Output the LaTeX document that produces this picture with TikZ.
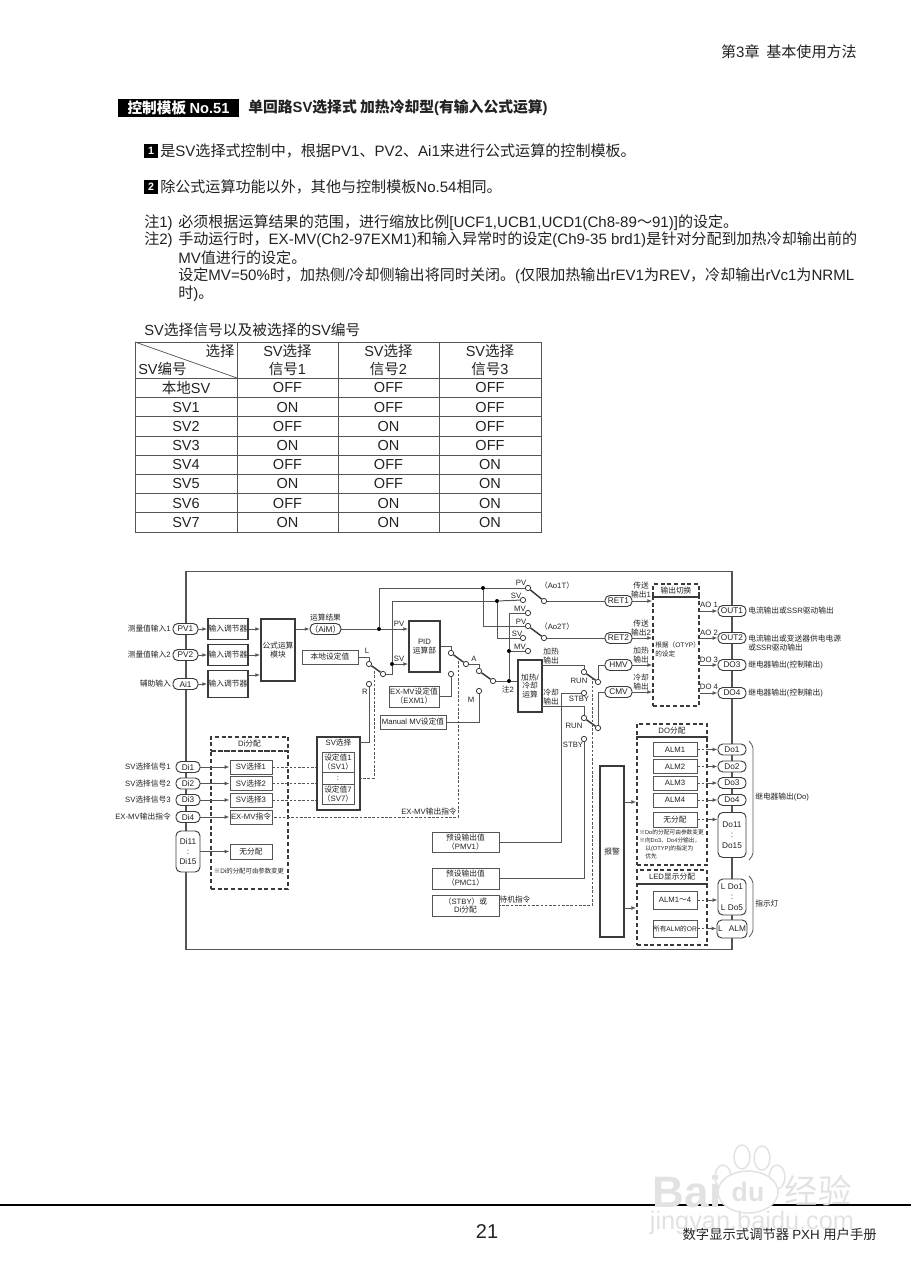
\documentclass[tikz,border=0pt]{standalone}
\usepackage{fontspec}
\usetikzlibrary{arrows.meta,calc,shapes.geometric}
\setmainfont{Liberation Sans}
\newfontfamily\cjk{Noto Sans CJK SC}
\newfontfamily\lat{Liberation Sans}
\XeTeXinterchartokenstate=1
\chardef\hanclass=7
\newcount\hanchar
\def\sethanrange#1#2{\hanchar=#1 \loop\XeTeXcharclass\hanchar=\hanclass\ifnum\hanchar<#2 \advance\hanchar by 1 \repeat}
\sethanrange{"3000}{"30FF}
\sethanrange{"4E00}{"9FFF}
\sethanrange{"FF00}{"FFEF}
\XeTeXcharclass"203B=\hanclass
\XeTeXinterchartoks 0 \hanclass={\cjk}
\XeTeXinterchartoks \hanclass 0={\lat}
\XeTeXinterchartoks 4095 \hanclass={\cjk}
\XeTeXinterchartoks 4095 0={\lat}
\definecolor{Ink}{HTML}{222222}
\definecolor{Wire}{HTML}{555555}
\definecolor{Rim}{HTML}{3A3A3A}
\definecolor{Wmark}{HTML}{E2E2E2}
\tikzset{
  wd/.style={minimum width=#1*0.75pt},
  ht/.style={minimum height=#1*0.75pt},
  tiny/.style={font=\fontsize{5.8}{6.7}\selectfont,text=Ink,inner sep=0pt,align=center},
  body/.style={font=\fontsize{11.3}{13}\selectfont,text=Ink,inner sep=0pt,anchor=west},
  cell/.style={font=\fontsize{10.9}{13.6}\selectfont,text=Ink,inner sep=0pt,align=center},
  framebox/.style={draw=Wire,line width=1.2pt,inner sep=0pt},
  thinbox/.style={tiny,draw=Wire,line width=0.7pt,fill=white},
  heavybox/.style={tiny,draw=Rim,line width=1.2pt,fill=white},
  dashbox/.style={tiny,draw=Rim,line width=1.1pt,dash pattern=on 3pt off 2pt},
  pill/.style={tiny,draw=Rim,line width=0.7pt,fill=white,rounded corners=3.6pt,font=\fontsize{6.2}{7.4}\selectfont},
  term/.style={circle,draw=Rim,line width=0.6pt,fill=white,minimum size=4pt,inner sep=0pt},
  dotnode/.style={circle,fill=black,minimum size=3pt,inner sep=0pt},
  wire/.style={draw=Wire,line width=0.75pt},
  flow/.style={wire,-{Latex[length=3.6pt,width=2.8pt]}},
  ctrl/.style={draw=Wire,line width=0.7pt,dash pattern=on 2pt off 1.2pt},
  blade/.style={draw=Rim,line width=1.1pt},
  brace/.style={draw=Wire,line width=0.6pt,rounded corners=1.6pt},
  gridline/.style={draw=Wire,line width=0.55pt},
  wmark/.style={text=Wmark,inner sep=0pt},
  wmpaw/.style={draw=Wmark,fill=white,line width=1.1pt}
}
\begin{document}
\begin{tikzpicture}[x=0.75pt,y=-0.75pt]
  \useasboundingbox (0,0) rectangle (911,1280);

  % page text
  \node[body,anchor=east] (chapter) at (857,52) {第3章\ \ 基本使用方法};
  \node[fill=black,text=white,font=\fontsize{11}{13}\selectfont\bfseries,wd=121,ht=18,inner sep=0pt] (tplno) at (178.5,108) {控制模板 No.51};
  \node[body,font=\fontsize{11.1}{13}\selectfont\bfseries] (tpltitle) at (248,108) {单回路SV选择式 加热冷却型(有输入公式运算)};
  \node[fill=black,text=white,font=\fontsize{8}{8}\selectfont\bfseries,wd=14,ht=14,inner sep=0pt] (numa) at (151,151) {1};
  \node[body] (linea) at (160,151) {是SV选择式控制中，根据PV1、PV2、Ai1来进行公式运算的控制模板。};
  \node[fill=black,text=white,font=\fontsize{8}{8}\selectfont\bfseries,wd=14,ht=14,inner sep=0pt] (numb) at (151,187) {2};
  \node[body] (lineb) at (160,187) {除公式运算功能以外，其他与控制模板No.54相同。};
  \node[body] (notea) at (144,223) {注1)};
  \node[body] (noteatext) at (178,223) {必须根据运算结果的范围，进行缩放比例[UCF1,UCB1,UCD1(Ch8-89～91)]的设定。};
  \node[body] (noteb) at (144,240) {注2)};
  \node[body] (notebone) at (178,240) {手动运行时，EX-MV(Ch2-97EXM1)和输入异常时的设定(Ch9-35 brd1)是针对分配到加热冷却输出前的};
  \node[body] (notebtwo) at (178,258) {MV值进行的设定。};
  \node[body] (notebthree) at (178,276) {设定MV=50\%时，加热侧/冷却侧输出将同时关闭。(仅限加热输出rEV1为REV，冷却输出rVc1为NRML};
  \node[body] (notebfour) at (178,294) {时)。};

  % table
  \node[body,font=\fontsize{11.05}{13}\selectfont] (tabtitle) at (144,330) {SV选择信号以及被选择的SV编号};
  \draw[gridline] (135,342) rectangle (541,532);
  \foreach \x in {237,338,439}{
    \draw[gridline] (\x,342) -- (\x,532);
  }
  \draw[gridline] (135,378) -- (541,378);
  \draw[gridline] (135,342) -- (237,378);
  \node[cell,anchor=east] (headsel) at (235,351) {选择};
  \node[cell,anchor=west] (headsv) at (138,369) {SV编号};
  \node[cell] (heada) at (287.5,360) {SV选择\\信号1};
  \node[cell] (headb) at (388.5,360) {SV选择\\信号2};
  \node[cell] (headc) at (490,360) {SV选择\\信号3};
  \foreach \lab/\va/\vb/\vc [count=\r] in {本地SV/OFF/OFF/OFF,SV1/ON/OFF/OFF,SV2/OFF/ON/OFF,SV3/ON/ON/OFF,SV4/OFF/OFF/ON,SV5/ON/OFF/ON,SV6/OFF/ON/ON,SV7/ON/ON/ON}{
    \pgfmathsetmacro{\rowy}{378.3+(\r-0.5)*19.2}
    \ifnum\r<8
      \draw[gridline] (135,{378.3+\r*19.2}) -- (541,{378.3+\r*19.2});
    \fi
    \node[cell] (row\r) at (186,\rowy) {\lab};
    \node[cell] (row\r a) at (287.5,\rowy) {\va};
    \node[cell] (row\r b) at (388.5,\rowy) {\vb};
    \node[cell] (row\r c) at (490,\rowy) {\vc};
  }

  % frame
  \node[framebox,wd=546,ht=378] (frame) at (459,760.5) {};

  % inputs
  \node[pill,wd=25,ht=11] (pvone) at (185.5,629) {PV1};
  \node[pill,wd=25,ht=11] (pvtwo) at (185.5,655) {PV2};
  \node[pill,wd=25,ht=11] (aione) at (185.5,684) {Ai1};
  \node[tiny,anchor=east] (lpvone) at (171,629) {测量值输入1};
  \node[tiny,anchor=east] (lpvtwo) at (171,655) {测量值输入2};
  \node[tiny,anchor=east] (laione) at (171,684) {辅助输入};
  \node[heavybox,wd=40,ht=21] (inone) at (228,629) {输入调节器};
  \node[heavybox,wd=40,ht=21] (intwo) at (228,655) {输入调节器};
  \node[heavybox,wd=40,ht=27] (inthree) at (228,684) {输入调节器};
  \node[heavybox,wd=34,ht=62] (formula) at (278,650) {公式运算\\模块};
  \node[pill,wd=29,ht=11] (aim) at (325.5,629) {（AiM）};
  \node[tiny] (laim) at (325.5,618) {运算结果};
  \node[thinbox,wd=56,ht=14] (localset) at (330,657) {本地设定值};
  \coordinate (inthreeout) at (248,675);
  \draw[flow] (pvone) -- (inone);
  \draw[flow] (pvtwo) -- (intwo);
  \draw[flow] (aione) -- (inthree);
  \draw[flow] (inone.east) -- (inone.east -| formula.west);
  \draw[flow] (intwo.east) -- (intwo.east -| formula.west);
  \draw[flow] (inthreeout) -- (inthreeout -| formula.west);
  \draw[flow] (aim.west -| formula.east) -- (aim.west);

  % SV side switch
  \node[term] (swL) at (369,664) {};
  \node[term] (swLc) at (383,674) {};
  \node[term] (swLr) at (369,684) {};
  \node[tiny] (lswL) at (367,651) {L};
  \node[tiny] (lswR) at (365,692) {R};
  \draw[wire] (localset.east) -| (swL.north);
  \draw[blade] (swL) -- (swLc);

  % PID
  \node[heavybox,wd=31,ht=51] (pid) at (424.5,646.5) {PID\\运算部};
  \node[dotnode] (pvdot) at (379,629) {};
  \node[dotnode] (svdot) at (392,664) {};
  \node[dotnode] (pvupper) at (483,588) {};
  \node[dotnode] (svupper) at (497,601) {};
  \node[tiny] (lpidpv) at (399,624) {PV};
  \node[tiny] (lpidsv) at (399,659) {SV};
  \draw[wire] (aim) -- (pvdot);
  \draw[flow] (pvdot) -- (pvdot -| pid.west);
  \draw[wire] (swLc) -| (svdot);
  \draw[flow] (svdot) -- (svdot -| pid.west);
  \draw[wire] (pvdot) |- (pvupper);
  \draw[wire] (svdot) |- (svupper);

  % output switches
  \node[term] (swA) at (451,653) {};
  \node[term] (swAc) at (466,664) {};
  \node[term] (swAex) at (451,674) {};
  \node[term] (swM) at (479,671) {};
  \node[term] (swMc) at (493,681) {};
  \node[term] (swMm) at (479,691) {};
  \node[tiny] (lswA) at (474,659) {A};
  \node[tiny] (lswM) at (471,700) {M};
  \node[thinbox,wd=50,ht=21] (exm) at (414,696.5) {EX-MV设定值\\（EXM1）};
  \node[thinbox,wd=66,ht=14] (manual) at (413,722) {Manual MV设定值};
  \draw[wire] (pid.east) -| (swA);
  \draw[blade] (swA) -- (swAc);
  \draw[blade] (swM) -- (swMc);
  \draw[wire] (swAc) -| (swM);
  \draw[wire] (exm.east) -| (swAex);
  \draw[wire] (manual.east) -| (swMm);

  % heat and cool
  \node[heavybox,wd=24,ht=52] (heatcool) at (530,686) {加热/\\冷却\\运算};
  \node[dotnode] (mvdot) at (509,681) {};
  \node[dotnode] (mvmid) at (509,651) {};
  \node[tiny] (lnote) at (508,689) {注2};
  \draw[wire] (swMc) -- (mvdot);
  \draw[wire] (mvdot) -- (mvdot -| heatcool.west);
  \draw[wire] (mvdot) -- (mvmid);

  % transmit switches
  \node[term] (aoapv) at (528,588) {};
  \node[term] (aoasv) at (523,600) {};
  \node[term] (aoamv) at (528,613) {};
  \node[term] (aoac) at (544,601) {};
  \node[term] (aobpv) at (528,626) {};
  \node[term] (aobsv) at (523,638) {};
  \node[term] (aobmv) at (528,651) {};
  \node[term] (aobc) at (544,638) {};
  \foreach \n/\x/\y/\t in {lapv/521/583/PV,lasv/516/596/SV,lamv/520/609/MV,lbpv/521/622/PV,lbsv/517/634/SV,lbmv/520/647/MV}{
    \node[tiny] (\n) at (\x,\y) {\t};
  }
  \node[tiny] (laoa) at (557,586) {（Ao1T）};
  \node[tiny] (laob) at (557,627) {（Ao2T）};
  \draw[wire] (pvupper) -- (aoapv);
  \draw[wire] (pvupper) |- (aobpv);
  \draw[wire] (svupper) -- (aoasv);
  \draw[wire] (svupper) |- (aobsv);
  \draw[wire] (mvmid) |- (aoamv);
  \draw[wire] (mvmid) -- (aobmv);
  \draw[blade] (aoapv) -- (aoac);
  \draw[blade] (aobpv) -- (aobc);

  % heat and cool outputs
  \node[term] (hsw) at (584,672) {};
  \node[term] (hstby) at (584,693) {};
  \node[term] (hc) at (598,682) {};
  \node[term] (csw) at (584,718) {};
  \node[term] (cstby) at (584,739) {};
  \node[term] (cc) at (598,728) {};
  \coordinate (heatout) at (542,665);
  \coordinate (coolout) at (542,706);
  \node[tiny] (lheat) at (551,656) {加热\\输出};
  \node[tiny] (lcool) at (551,697.5) {冷却\\输出};
  \foreach \n/\x/\y/\t in {lruna/579/681/RUN,lstbya/579/699/STBY,lrunb/574/726/RUN,lstbyb/573/745/STBY}{
    \node[tiny] (\n) at (\x,\y) {\t};
  }
  \node[pill,wd=27,ht=11] (retone) at (618.5,601) {RET1};
  \node[pill,wd=27,ht=11] (rettwo) at (618.5,638) {RET2};
  \node[pill,wd=27,ht=11] (hmv) at (618.5,665) {HMV};
  \node[pill,wd=27,ht=11] (cmv) at (618.5,692) {CMV};
  \draw[wire] (aoac) -- (retone);
  \draw[wire] (aobc) -- (rettwo);
  \draw[wire] (heatout) -| (hsw);
  \draw[wire] (coolout) -| (csw);
  \draw[blade] (hsw) -- (hc);
  \draw[blade] (csw) -- (cc);
  \draw[wire] (hc) |- (hmv);
  \draw[wire] (cc) |- (cmv);

  % output switching
  \node[dashbox,wd=46,ht=13] (outtitle) at (676,590.5) {输出切换};
  \node[dashbox,wd=46,ht=109] (outmain) at (676,651.5) {};
  \node[tiny,anchor=west,align=left,font=\fontsize{5}{6.6}\selectfont] (lotyp) at (655,649.5) {根据（OTYP）\\的设定};
  \node[tiny] (lretone) at (641,590) {传送\\输出1};
  \node[tiny] (lrettwo) at (641,628) {传送\\输出2};
  \node[tiny] (lhmv) at (641,655) {加热\\输出};
  \node[tiny] (lcmv) at (641,682) {冷却\\输出};
  \foreach \n in {retone,rettwo,hmv,cmv}{
    \draw[flow] (\n) -- (\n -| outmain.west);
  }
  \node[pill,wd=28,ht=11] (outone) at (732,611) {OUT1};
  \node[pill,wd=28,ht=11] (outtwo) at (732,638) {OUT2};
  \node[pill,wd=28,ht=11] (dothree) at (732,665) {DO3};
  \node[pill,wd=28,ht=11] (dofour) at (732,693) {DO4};
  \foreach \n/\y/\t in {outone/605/AO 1,outtwo/633/AO 2,dothree/660/DO 3,dofour/687/DO 4}{
    \draw[flow] (\n -| outmain.east) -- (\n);
    \node[tiny] (l\n) at (709,\y) {\t};
  }
  \node[tiny,anchor=west] (routone) at (748,611) {电流输出或SSR驱动输出};
  \node[tiny,anchor=west,align=left,font=\fontsize{5.8}{7.4}\selectfont] (routtwo) at (748,643) {电流输出或变送器供电电源\\或SSR驱动输出};
  \node[tiny,anchor=west] (rdothree) at (748,665) {继电器输出(控制输出)};
  \node[tiny,anchor=west] (rdofour) at (748,693) {继电器输出(控制输出)};

  % Di part
  \node[dashbox,wd=77,ht=14] (dititle) at (249.5,744) {Di分配};
  \node[dashbox,wd=77,ht=138] (dimain) at (249.5,820) {};
  \foreach \n/\y/\t/\l in {dia/767/Di1/SV选择信号1,dib/783.5/Di2/SV选择信号2,dic/800/Di3/SV选择信号3,did/817/Di4/EX-MV输出指令}{
    \node[pill,wd=24,ht=11] (\n) at (188,\y) {\t};
    \node[tiny,anchor=east] (l\n) at (171,\y) {\l};
  }
  \node[pill,wd=24,ht=41,font=\fontsize{6.2}{7.6}\selectfont] (dieleven) at (188,851.5) {Di11\\:\\Di15};
  \node[thinbox,wd=42,ht=14] (disva) at (251,767) {SV选择1};
  \node[thinbox,wd=42,ht=14] (disvb) at (251,783.5) {SV选择2};
  \node[thinbox,wd=42,ht=14] (disvc) at (251,800) {SV选择3};
  \node[thinbox,wd=42,ht=14] (dimv) at (251,817) {EX-MV指令};
  \node[thinbox,wd=42,ht=15] (dinone) at (251,851.5) {无分配};
  \node[tiny,font=\fontsize{4.8}{6}\selectfont] (lditext) at (249,871) {※Di的分配可由参数变更};
  \draw[flow] (dia) -- (disva);
  \draw[flow] (dib) -- (disvb);
  \draw[flow] (dic) -- (disvc);
  \draw[flow] (did) -- (dimv);
  \draw[flow] (dieleven) -- (dinone);

  % SV select
  \node[heavybox,wd=43,ht=73,anchor=north] (svsel) at (338.5,736) {};
  \node[tiny] (lsvsel) at (338.5,743) {SV选择};
  \node[thinbox,wd=32,ht=20] (svone) at (338,762) {设定值1\\（SV1）};
  \node[thinbox,wd=32,ht=12] (svdots) at (338,778) {:};
  \node[thinbox,wd=32,ht=20] (svseven) at (338,794) {设定值7\\（SV7）};
  \coordinate (svselport) at (360,778);
  \coordinate (svselout) at (360,742);
  \coordinate (ctrlL) at (374,671);
  \coordinate (ctrlA) at (458,661);
  \coordinate (ctrlH) at (592,677);
  \draw[wire] (svselout) -| (swLr);
  \draw[ctrl] (ctrlL) |- (svselport);
  \draw[ctrl] (disva) -- (disva -| svsel.west);
  \draw[ctrl] (disvb) -- (disvb -| svsel.west);
  \draw[ctrl] (disvc) -- (disvc -| svsel.west);
  \draw[ctrl] (ctrlA) |- (dimv);
  \node[tiny] (lexcmd) at (429,812) {EX-MV输出指令};

  % preset boxes
  \node[thinbox,wd=67,ht=20] (pmvone) at (465.5,842) {预设输出值\\（PMV1）};
  \node[thinbox,wd=67,ht=21] (pmcone) at (465.5,878.5) {预设输出值\\（PMC1）};
  \node[thinbox,wd=67,ht=21] (stbybox) at (465.5,905.5) {（STBY）或\\Di分配};
  \node[tiny] (lstby) at (515,900) {待机指令};
  \coordinate (pmvcorner) at (561,842);
  \draw[wire] (pmvone) -- (pmvcorner) |- (hstby);
  \draw[wire] (pmcone) -| (cstby);
  \draw[ctrl] (ctrlH) |- (stbybox);

  % alarm
  \node[heavybox,wd=24,ht=171] (alarm) at (612,851.5) {报警};
  \coordinate (almdo) at (624,802);

  % DO part
  \node[dashbox,wd=70,ht=13] (dotitle) at (672,730.5) {DO分配};
  \node[dashbox,wd=70,ht=128] (domain) at (672,801) {};
  \foreach \n/\bx/\y/\p/\t in {alma/doa/749.5/Do1/ALM1,almb/dob/766.5/Do2/ALM2,almc/doc/783/Do3/ALM3,almd/dod/800/Do4/ALM4}{
    \node[thinbox,wd=44,ht=14] (\n) at (675,\y) {\t};
    \node[pill,wd=28,ht=11] (\bx) at (732,\y) {\p};
    \draw[ctrl] (\n) -- (\n -| domain.east);
    \draw[flow] (\n -| domain.east) -- (\bx);
  }
  \node[thinbox,wd=44,ht=15] (almnone) at (675,819.5) {无分配};
  \node[pill,wd=28,ht=45,anchor=north,font=\fontsize{6.2}{7.8}\selectfont] (doeleven) at (732,812) {Do11\\:\\Do15};
  \draw[ctrl] (almnone) -- (almnone -| domain.east);
  \draw[flow] (almnone -| domain.east) -- (almnone -| doeleven.west);
  \node[tiny,anchor=north west,align=left,font=\fontsize{4.3}{6}\selectfont] (ldotext) at (639,829.5) {※Do的分配可由参数变更\\※向Do3、Do4分输出，\\\hspace*{4.5pt}以(OTYP)的指定为\\\hspace*{4.5pt}优先};
  \draw[flow] (almdo) -- (almdo -| domain.west);

  % LED part
  \node[dashbox,wd=70,ht=14] (ledtitle) at (672,877) {LED显示分配};
  \node[dashbox,wd=70,ht=61] (ledmain) at (672,914.5) {};
  \node[thinbox,wd=44,ht=18] (almled) at (675,900) {ALM1～4};
  \node[thinbox,wd=44,ht=17,font=\fontsize{5}{6}\selectfont] (almor) at (675,928.5) {所有ALM的OR};
  \node[pill,wd=28,ht=36,font=\fontsize{6.2}{7.8}\selectfont] (ldo) at (732,897) {L Do1\\:\\L Do5};
  \node[pill,wd=30,ht=18] (lalm) at (732,929) {L\hspace{3pt} ALM};
  \draw[ctrl] (almled) -- (almled -| ledmain.east);
  \draw[flow] (almled -| ledmain.east) -- (almled -| ldo.west);
  \draw[ctrl] (almor) -- (almor -| ledmain.east);
  \draw[flow] (almor -| ledmain.east) -- (almor -| lalm.west);
  \coordinate (almledport) at (624,908);
  \draw[flow] (almledport) -- (almledport -| ledmain.west);

  % braces
  \draw[brace] (749,741) -- (753,746) -- (753,855) -- (749,860);
  \draw[brace] (749,876) -- (753,881) -- (753,932) -- (749,937);
  \node[tiny,anchor=west] (lrelay) at (755,797) {继电器输出(Do)};
  \node[tiny,anchor=west] (llamp) at (755,904) {指示灯};

  % footer and watermark
  \draw[draw=black,line width=1.1pt] (0,1205) -- (911,1205);
  \foreach \x/\y in {723/1177,742/1157,762/1158,777/1177}{
    \draw[wmpaw] (\x,\y) ellipse (6pt and 9pt);
  }
  \node[wmpaw,ellipse,wd=60,ht=42,inner sep=0pt,text=Wmark,font=\fontsize{20}{20}\selectfont\bfseries] (wmdu) at (748,1192) {du};
  \node[wmark,font=\fontsize{33}{33}\selectfont\bfseries] (wmbai) at (687,1192) {Bai};
  \node[wmark,font=\fontsize{25}{25}\selectfont] (wmjy) at (818,1191) {经验};
  \node[wmark,font=\fontsize{19}{19}\selectfont] (wmurl) at (752,1223) {jingyan.baidu.com};
  \node[text=Ink,inner sep=0pt,font=\fontsize{15}{15}\selectfont] (pageno) at (487,1232) {21};
  \node[text=Ink,inner sep=0pt,anchor=east,font=\fontsize{10}{12}\selectfont] (manualname) at (877,1234) {数字显示式调节器 PXH 用户手册};
\end{tikzpicture}
\end{document}
